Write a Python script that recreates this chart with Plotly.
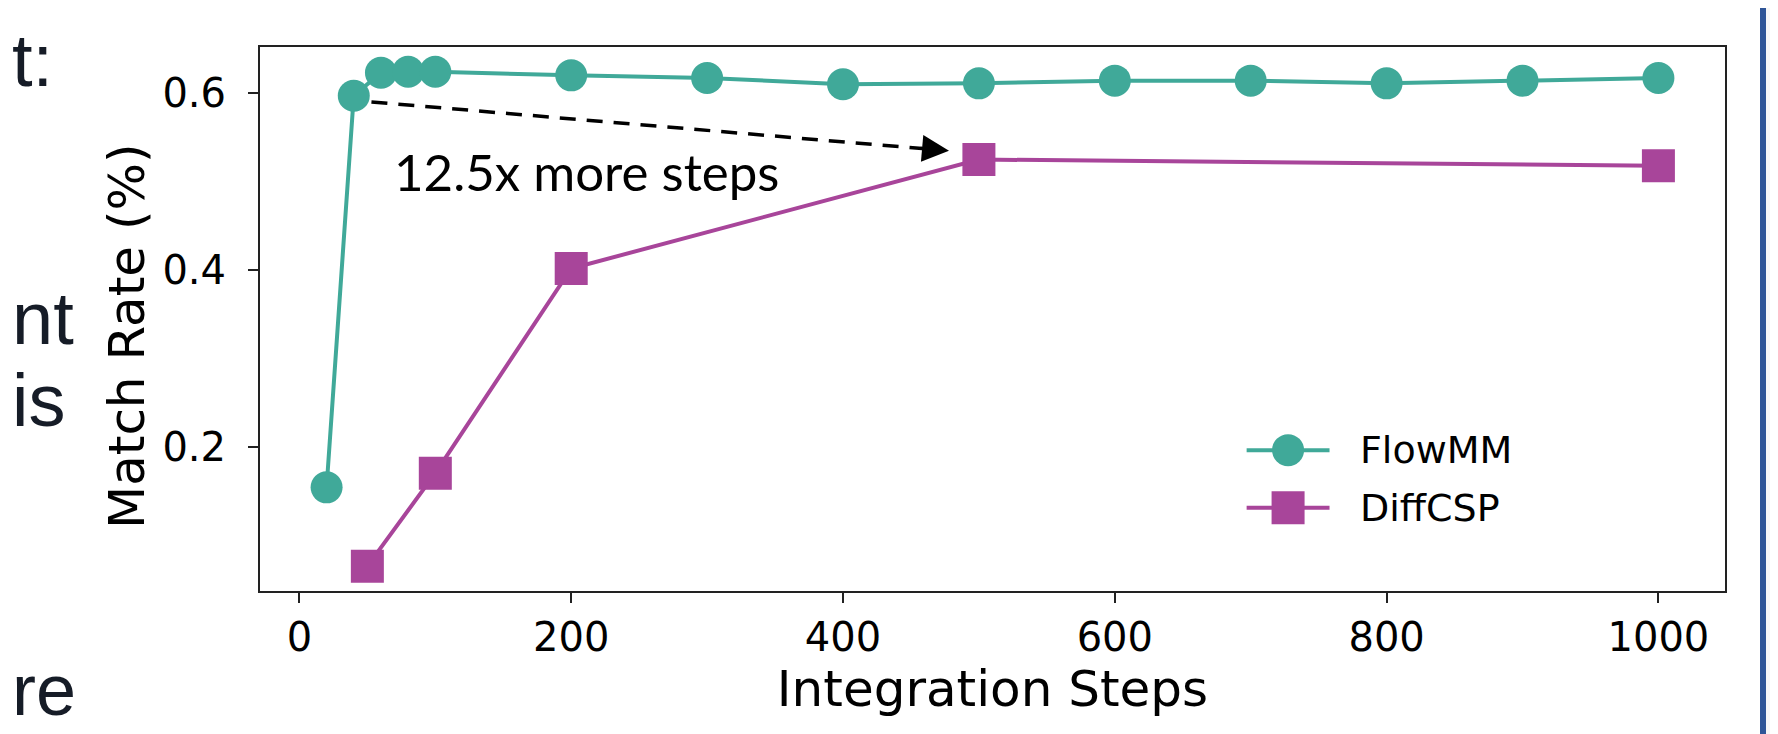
import plotly.graph_objects as go

# ---- data ----
flow_steps = [20, 40, 60, 80, 100, 200, 300, 400, 500, 600, 700, 800, 900, 1000]
flow_rate = [0.155, 0.597, 0.623, 0.624, 0.624, 0.620, 0.617, 0.610, 0.611, 0.614, 0.614, 0.611, 0.614, 0.617]
diff_steps = [50, 100, 200, 500, 1000]
diff_rate = [0.066, 0.171, 0.402, 0.525, 0.518]
x_ticks = [0, 200, 400, 600, 800, 1000]
y_ticks = [0.2, 0.4, 0.6]
series_names = ["FlowMM", "DiffCSP"]
x_title = "Integration Steps"
y_title = "Match Rate (%)"
annot_text = "12.5x more steps"
arrow_start = (53, 0.590)
arrow_end = (478, 0.535)
side_text = ["t:", "nt", "is", "re"]

TEAL = "#40a999"
MAGENTA = "#a8459a"
W, H = 1778, 734
L, R, T, B = 252, 61, 39, 151
PW, PH = W - L - R, H - T - B
XR = [-29, 1049]
YR = [0.038, 0.652]


def px(xp):
    return (xp - L) / PW


def py(yp):
    return (H - B - yp) / PH


fig = go.Figure()
fig.add_trace(go.Scatter(
    x=flow_steps, y=flow_rate, mode="lines+markers", name=series_names[0],
    line=dict(color=TEAL, width=4),
    marker=dict(symbol="circle", size=32, color=TEAL),
    showlegend=False,
))
fig.add_trace(go.Scatter(
    x=diff_steps, y=diff_rate, mode="lines+markers", name=series_names[1],
    line=dict(color=MAGENTA, width=4),
    marker=dict(symbol="square", size=33, color=MAGENTA),
    showlegend=False,
))

# custom legend (in data coordinates, like matplotlib's lower-right legend)
leg_x0, leg_x1, leg_xm, leg_text_x = 697, 758, 727.5, 779
leg_rows = [0.197, 0.132]
for name, color, sym, yrow in zip(series_names, [TEAL, MAGENTA], ["circle", "square"], leg_rows):
    fig.add_trace(go.Scatter(x=[leg_x0, leg_x1], y=[yrow, yrow], mode="lines",
                             line=dict(color=color, width=4), showlegend=False,
                             hoverinfo="skip"))
    fig.add_trace(go.Scatter(x=[leg_xm], y=[yrow], mode="markers",
                             marker=dict(symbol=sym, size=32 if sym == "circle" else 33, color=color),
                             showlegend=False, hoverinfo="skip"))
    fig.add_annotation(x=leg_text_x, y=yrow, xref="x", yref="y", xanchor="left",
                       yanchor="middle", showarrow=False, text=name,
                       font=dict(family="DejaVu Sans", size=38, color="black"))

# dashed arrow
fig.add_shape(type="line", xref="x", yref="y",
              x0=arrow_start[0], y0=arrow_start[1],
              x1=arrow_end[0] - 14, y1=arrow_end[1] + 0.0016,
              line=dict(color="black", width=3.5, dash="16px,11px"))
fig.add_annotation(x=arrow_end[0], y=arrow_end[1], xref="x", yref="y",
                   ax=-30, ay=-2.6, axref="pixel", ayref="pixel",
                   text="", showarrow=True, arrowhead=2, arrowsize=1.8,
                   arrowwidth=3, arrowcolor="black")
fig.add_annotation(x=68, y=0.511, xref="x", yref="y",
                   xanchor="left", yanchor="middle", showarrow=False,
                   text=annot_text,
                   font=dict(family="Lato, Liberation Sans", size=51, color="black"))

# y-axis title placed as in the reference
fig.add_annotation(x=px(119), y=py(328), xref="paper", yref="paper",
                   xanchor="center", yanchor="middle", showarrow=False,
                   textangle=-90, text=y_title,
                   font=dict(family="DejaVu Sans", size=50, color="black"))

# slide text fragments at the left edge
for txt, yc, fs in zip(side_text, [52, 310, 392, 682], [74, 74, 74, 72]):
    fig.add_annotation(x=px(2), y=py(yc), xref="paper", yref="paper",
                       xanchor="left", yanchor="middle", showarrow=False,
                       text=txt,
                       font=dict(family="Liberation Sans, Arial", size=fs, color="#161c27"))

# right blue slide border
fig.add_shape(type="rect", xref="paper", yref="paper",
              x0=px(1752), x1=px(1758), y0=py(-10), y1=py(734),
              fillcolor="#2f5597", line=dict(width=0), layer="above")
fig.add_shape(type="rect", xref="paper", yref="paper",
              x0=px(1758), x1=px(1790), y0=py(-10), y1=py(740),
              fillcolor="#f7f7f7", line=dict(width=0), layer="below")

axis_common = dict(
    showline=True, linecolor="#222222", linewidth=2, mirror=True,
    ticks="outside", ticklen=10, tickwidth=2, tickcolor="#222222",
    showgrid=False, zeroline=False,
    tickfont=dict(family="DejaVu Sans", size=40, color="black"),
)
fig.update_xaxes(range=XR, tickvals=x_ticks,
                 title=dict(text=x_title, standoff=12,
                            font=dict(family="DejaVu Sans", size=50, color="black")),
                 **axis_common)
fig.update_yaxes(range=YR, tickvals=y_ticks, tickformat=".1f", ticklabelstandoff=14,
                 **axis_common)

fig.update_layout(
    width=W, height=H,
    margin=dict(l=L, r=R, t=T, b=B, autoexpand=False),
    paper_bgcolor="white", plot_bgcolor="white",
    showlegend=False,
)

fig.write_html("out.html")
